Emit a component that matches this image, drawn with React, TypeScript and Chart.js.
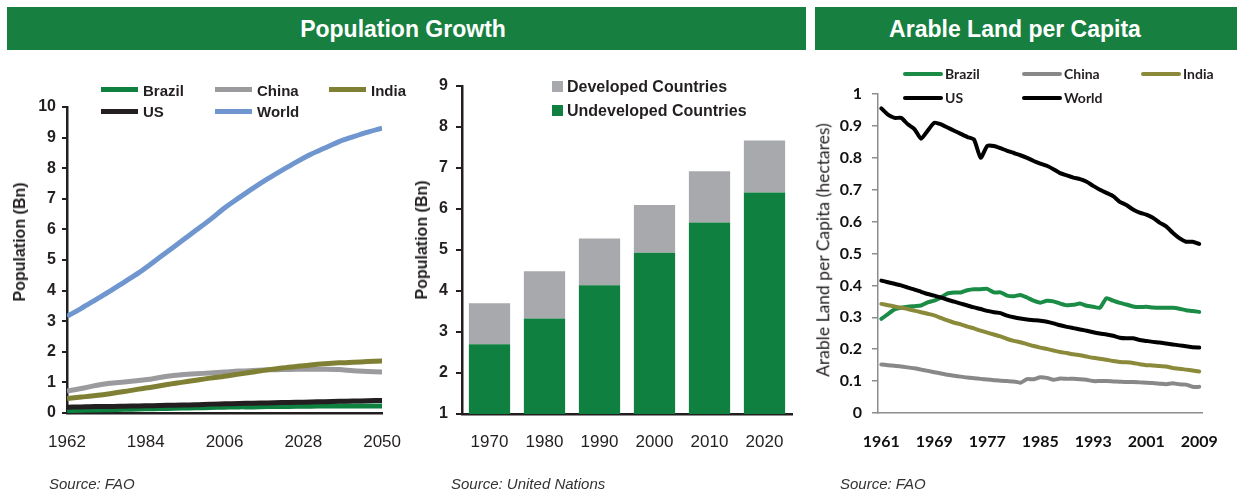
import React, { useEffect, useRef } from "react";
import { Chart, registerables } from "chart.js";
Chart.register(...registerables);

// ---------- Population Growth (line) ----------
const popYears = [1962, 1966, 1970, 1974, 1978, 1982, 1986, 1990, 1994, 1998, 2002, 2006, 2010, 2014, 2018, 2022, 2026, 2030, 2034, 2038, 2042, 2046, 2050];
const worldPop = [3.16, 3.42, 3.7, 3.98, 4.28, 4.58, 4.92, 5.27, 5.62, 5.97, 6.32, 6.7, 7.03, 7.35, 7.65, 7.93, 8.2, 8.45, 8.66, 8.87, 9.03, 9.18, 9.31];
const chinaPop = [0.72, 0.8, 0.9, 0.97, 1.01, 1.06, 1.12, 1.2, 1.25, 1.28, 1.31, 1.34, 1.37, 1.39, 1.41, 1.42, 1.43, 1.43, 1.43, 1.42, 1.38, 1.36, 1.34];
const indiaPop = [0.47, 0.52, 0.57, 0.63, 0.7, 0.78, 0.85, 0.93, 1.0, 1.07, 1.14, 1.2, 1.27, 1.34, 1.41, 1.47, 1.52, 1.57, 1.61, 1.64, 1.66, 1.68, 1.7];
const usPop = [0.19, 0.2, 0.21, 0.21, 0.22, 0.23, 0.24, 0.25, 0.26, 0.27, 0.29, 0.3, 0.31, 0.32, 0.33, 0.34, 0.35, 0.36, 0.37, 0.38, 0.39, 0.4, 0.41];
const brazilPop = [0.08, 0.09, 0.1, 0.11, 0.12, 0.13, 0.14, 0.15, 0.16, 0.17, 0.18, 0.19, 0.2, 0.2, 0.21, 0.21, 0.22, 0.22, 0.23, 0.23, 0.23, 0.23, 0.23];

// ---------- Population Growth (bars) ----------
const barYears = ["1970", "1980", "1990", "2000", "2010", "2020"];
const undevelopedPop = [2.7, 3.33, 4.14, 4.93, 5.67, 6.4];
const developedPop = [1.0, 1.15, 1.14, 1.17, 1.25, 1.27];

// ---------- Arable Land per Capita ----------
const landYears = ["1961", "1962", "1963", "1964", "1965", "1966", "1967", "1968", "1969", "1970", "1971", "1972", "1973", "1974", "1975", "1976", "1977", "1978", "1979", "1980", "1981", "1982", "1983", "1984", "1985", "1986", "1987", "1988", "1989", "1990", "1991", "1992", "1993", "1994", "1995", "1996", "1997", "1998", "1999", "2000", "2001", "2002", "2003", "2004", "2005", "2006", "2007", "2008", "2009"];
const landWorld = [0.955, 0.935, 0.925, 0.925, 0.905, 0.89, 0.86, 0.885, 0.91, 0.905, 0.895, 0.885, 0.875, 0.865, 0.857, 0.8, 0.837, 0.837, 0.83, 0.822, 0.815, 0.808, 0.8, 0.79, 0.782, 0.775, 0.764, 0.752, 0.745, 0.738, 0.733, 0.725, 0.712, 0.7, 0.69, 0.68, 0.662, 0.652, 0.638, 0.628, 0.622, 0.612, 0.597, 0.585, 0.565, 0.548, 0.537, 0.537, 0.53];
const landUS = [0.415, 0.41, 0.405, 0.4, 0.393, 0.387, 0.38, 0.373, 0.368, 0.362, 0.355, 0.349, 0.343, 0.337, 0.331, 0.326, 0.32, 0.316, 0.313, 0.305, 0.3, 0.296, 0.293, 0.291, 0.289, 0.286, 0.281, 0.275, 0.27, 0.266, 0.262, 0.258, 0.253, 0.249, 0.246, 0.242, 0.236, 0.234, 0.234, 0.229, 0.226, 0.223, 0.221, 0.218, 0.215, 0.212, 0.209, 0.206, 0.205];
const landBrazil = [0.295, 0.31, 0.325, 0.33, 0.333, 0.335, 0.337, 0.347, 0.352, 0.362, 0.375, 0.378, 0.378, 0.385, 0.388, 0.388, 0.389, 0.378, 0.378, 0.368, 0.366, 0.37, 0.362, 0.352, 0.346, 0.352, 0.35, 0.343, 0.338, 0.339, 0.343, 0.336, 0.333, 0.33, 0.36, 0.352, 0.345, 0.34, 0.334, 0.332, 0.333, 0.331, 0.33, 0.33, 0.33, 0.327, 0.322, 0.32, 0.317];
const landIndia = [0.342, 0.338, 0.334, 0.33, 0.326, 0.321, 0.316, 0.311, 0.306, 0.298, 0.29, 0.283, 0.278, 0.271, 0.265, 0.258, 0.252, 0.246, 0.24, 0.232, 0.226, 0.222, 0.216, 0.21, 0.205, 0.201, 0.196, 0.191, 0.188, 0.184, 0.181, 0.177, 0.173, 0.17, 0.167, 0.163, 0.16, 0.159, 0.157, 0.153, 0.15, 0.149, 0.147, 0.146, 0.141, 0.139, 0.136, 0.133, 0.13];
const landChina = [0.152, 0.15, 0.148, 0.146, 0.143, 0.14, 0.136, 0.132, 0.128, 0.124, 0.12, 0.117, 0.114, 0.111, 0.109, 0.107, 0.105, 0.103, 0.101, 0.1, 0.099, 0.095, 0.106, 0.106, 0.112, 0.11, 0.104, 0.108, 0.107, 0.107, 0.106, 0.104, 0.1, 0.1, 0.1, 0.099, 0.098, 0.097, 0.097, 0.096, 0.095, 0.094, 0.092, 0.09, 0.093, 0.09, 0.089, 0.082, 0.082];

const ARIAL = "'Liberation Sans', Arial, Helvetica, sans-serif";
const LATO = "Lato, 'Open Sans', sans-serif";
const INK = "#231f20";
const GREEN = "#108040";
const TITLE_GREEN = "#178040";

const C_WORLD = "#7096d0";
const C_CHINA = "#9b9b9e";
const C_INDIA = "#808035";
const C_US = "#231f20";
const C_BRAZIL = "#0e8040";

function useChart(build: () => any) {
  const ref = useRef<HTMLCanvasElement | null>(null);
  useEffect(() => {
    if (!ref.current) return;
    const chart = new Chart(ref.current, build());
    return () => chart.destroy();
  }, []);
  return ref;
}

function PopLineChart() {
  const ref = useChart(() => {
    const pts = (arr: number[]) => popYears.map((x, i) => ({ x, y: arr[i] }));
    const ds = (label: string, arr: number[], color: string) => ({
      label,
      data: pts(arr),
      borderColor: color,
      backgroundColor: color,
      borderWidth: 5,
      pointRadius: 0,
      tension: 0.3,
      fill: false,
    });
    return {
      type: "line",
      data: {
        datasets: [
          ds("World", worldPop, C_WORLD),
          ds("India", indiaPop, C_INDIA),
          ds("China", chinaPop, C_CHINA),
          ds("US", usPop, C_US),
          ds("Brazil", brazilPop, C_BRAZIL),
        ],
      },
      options: {
        responsive: false,
        animation: false,
        devicePixelRatio: 1,
        layout: { padding: { left: 0, top: 107, right: 17, bottom: 37 } },
        plugins: { legend: { display: false }, tooltip: { enabled: false } },
        scales: {
          x: {
            type: "linear",
            min: 1962,
            max: 2050,
            ticks: { stepSize: 22, callback: (v: any) => String(v), font: { family: ARIAL, size: 17 }, color: INK, padding: 19, maxRotation: 0 },
            grid: { display: false, drawTicks: false },
            border: { display: true, color: INK, width: 2.5 },
            afterFit: (s: any) => { s.height = 40; },
          },
          y: {
            min: 0,
            max: 10,
            ticks: { stepSize: 1, font: { family: ARIAL, size: 16, weight: "bold" }, color: INK, padding: 6 },
            grid: { display: true, drawOnChartArea: false, drawTicks: true, tickLength: 5, color: INK, lineWidth: 2 },
            border: { display: true, color: INK, width: 2.5 },
            afterFit: (s: any) => { s.width = 67; },
          },
        },
      },
    };
  });
  return <canvas ref={ref} width={420} height={490} style={{ position: "absolute", left: 0, top: 0 }} />;
}

function PopBarChart() {
  const ref = useChart(() => ({
    type: "bar",
    data: {
      labels: barYears,
      datasets: [
        { label: "Undeveloped Countries", data: undevelopedPop, backgroundColor: GREEN, stack: "s" },
        { label: "Developed Countries", data: developedPop, backgroundColor: "#a7a9ac", stack: "s" },
      ],
    },
    options: {
      responsive: false,
      animation: false,
      devicePixelRatio: 1,
      barPercentage: 0.75,
      categoryPercentage: 1,
      layout: { padding: { left: 0, top: 86, right: 18, bottom: 36 } },
      plugins: { legend: { display: false }, tooltip: { enabled: false } },
      scales: {
        x: {
          stacked: true,
          ticks: { font: { family: ARIAL, size: 17 }, color: INK, padding: 18, maxRotation: 0 },
          grid: { display: false, drawTicks: false },
          border: { display: true, color: INK, width: 2.5 },
          afterFit: (s: any) => { s.height = 40; },
        },
        y: {
          stacked: true,
          min: 1,
          max: 9,
          ticks: { stepSize: 1, font: { family: ARIAL, size: 16, weight: "bold" }, color: INK, padding: 8 },
          grid: { display: true, drawOnChartArea: false, drawTicks: true, tickLength: 6, color: INK, lineWidth: 2 },
          border: { display: true, color: INK, width: 2.5 },
          afterFit: (s: any) => { s.width = 42; },
        },
      },
    },
  }));
  return <canvas ref={ref} width={390} height={490} style={{ position: "absolute", left: 420, top: 0 }} />;
}

function LandChart() {
  const ref = useChart(() => {
    const ds = (label: string, arr: number[], color: string) => ({
      label,
      data: arr,
      borderColor: color,
      backgroundColor: color,
      borderWidth: 4,
      pointRadius: 0,
      tension: 0.2,
      borderCapStyle: "round",
      borderJoinStyle: "round",
      fill: false,
    });
    return {
      type: "line",
      data: {
        labels: landYears,
        datasets: [
          ds("World", landWorld, "#000000"),
          ds("US", landUS, "#000000"),
          ds("India", landIndia, "#8a8a3a"),
          ds("China", landChina, "#888888"),
          ds("Brazil", landBrazil, "#1a8c45"),
        ],
      },
      options: {
        responsive: false,
        animation: false,
        devicePixelRatio: 1,
        layout: { padding: { left: 0, top: 94, right: 21, bottom: 37 } },
        plugins: { legend: { display: false }, tooltip: { enabled: false } },
        scales: {
          x: {
            offset: true,
            ticks: {
              autoSkip: false,
              maxRotation: 0,
              callback: (_v: any, i: number) => (i % 8 === 0 ? landYears[i] : ""),
              font: { family: LATO, size: 16, weight: "bold" },
              color: "#111",
              padding: 19,
            },
            grid: { display: false, drawTicks: false },
            border: { display: true, color: "#8c8c8c", width: 1.5 },
            afterFit: (s: any) => { s.height = 40; },
          },
          y: {
            min: 0,
            max: 1,
            ticks: {
              stepSize: 0.1,
              callback: (v: any) => String(Math.round(Number(v) * 10) / 10),
              font: { family: LATO, size: 16, weight: "bold" },
              color: "#111",
              padding: 10,
            },
            grid: { display: true, drawOnChartArea: false, drawTicks: true, tickLength: 6, color: "#8c8c8c", lineWidth: 1.5 },
            border: { display: true, color: "#8c8c8c", width: 1.5 },
            afterFit: (s: any) => { s.width = 68; },
          },
        },
      },
    };
  });
  return <canvas ref={ref} width={427} height={490} style={{ position: "absolute", left: 810, top: 0 }} />;
}

const abs = (s: React.CSSProperties): React.CSSProperties => ({ position: "absolute", ...s });

function TitleBar({ left, width, text, cx }: { left: number; width: number; text: string; cx: number }) {
  return (
    <div style={abs({ left, top: 7, width, height: 43, background: TITLE_GREEN })}>
      <div
        style={abs({
          left: cx - left,
          top: 21.5,
          transform: "translate(-50%, -50%)",
          whiteSpace: "nowrap",
          color: "#fff",
          fontFamily: ARIAL,
          fontWeight: "bold",
          fontSize: 23,
        })}
      >
        {text}
      </div>
    </div>
  );
}

function LineKey({ x, y, color, label, w, h, gap, font, size, round }: any) {
  return (
    <>
      <div style={abs({ left: x, top: y - h / 2, width: w, height: h, background: color, borderRadius: round ? h / 2 : 0 })} />
      <div
        style={abs({
          left: x + w + gap,
          top: y,
          transform: "translateY(-50%)",
          whiteSpace: "nowrap",
          fontFamily: font,
          fontWeight: "bold",
          fontSize: size,
          color: INK,
          lineHeight: 1,
        })}
      >
        {label}
      </div>
    </>
  );
}

function VTitle({ cx, cy, text, font, size, weight }: any) {
  return (
    <div
      style={abs({
        left: cx,
        top: cy,
        transform: "translate(-50%, -50%) rotate(-90deg)",
        whiteSpace: "nowrap",
        fontFamily: font,
        fontSize: size,
        fontWeight: weight,
        color: INK,
        lineHeight: 1,
      })}
    >
      {text}
    </div>
  );
}

function Source({ x, text }: { x: number; text: string }) {
  return (
    <div
      style={abs({
        left: x,
        top: 482.5,
        transform: "translateY(-50%)",
        whiteSpace: "nowrap",
        fontFamily: ARIAL,
        fontStyle: "italic",
        fontSize: 15,
        color: "#333",
        lineHeight: 1,
      })}
    >
      {text}
    </div>
  );
}

export default function App() {
  return (
    <div style={abs({ left: 0, top: 0, width: 1237, height: 490, background: "#fff", overflow: "hidden" })}>
      <TitleBar left={7} width={799} text="Population Growth" cx={403} />
      <TitleBar left={815} width={430} text="Arable Land per Capita" cx={1015} />

      <PopLineChart />
      <PopBarChart />
      <LandChart />

      {/* chart 1 legend */}
      <LineKey x={101} y={89.5} color={C_BRAZIL} label="Brazil" w={37} h={5} gap={5} font={ARIAL} size={15} />
      <LineKey x={215} y={89.5} color={C_CHINA} label="China" w={37} h={5} gap={5} font={ARIAL} size={15} />
      <LineKey x={329} y={89.5} color={C_INDIA} label="India" w={37} h={5} gap={5} font={ARIAL} size={15} />
      <LineKey x={101} y={111} color={C_US} label="US" w={37} h={5} gap={5} font={ARIAL} size={15} />
      <LineKey x={215} y={111} color={C_WORLD} label="World" w={37} h={5} gap={5} font={ARIAL} size={15} />

      {/* chart 2 legend */}
      <LineKey x={552} y={86.5} color="#a7a9ac" label="Developed Countries" w={11} h={11} gap={4} font={ARIAL} size={16} />
      <LineKey x={552} y={110.5} color={GREEN} label="Undeveloped Countries" w={11} h={11} gap={4} font={ARIAL} size={16} />

      {/* chart 3 legend */}
      <LineKey x={903} y={74} color="#1a8c45" label="Brazil" w={40} h={4} gap={2} font={LATO} size={14} round />
      <LineKey x={1022} y={74} color="#888888" label="China" w={40} h={4} gap={2} font={LATO} size={14} round />
      <LineKey x={1141} y={74} color="#8a8a3a" label="India" w={40} h={4} gap={2} font={LATO} size={14} round />
      <LineKey x={903} y={98} color="#000" label="US" w={40} h={4} gap={2} font={LATO} size={14} round />
      <LineKey x={1022} y={98} color="#000" label="World" w={40} h={4} gap={2} font={LATO} size={14} round />

      <VTitle cx={20} cy={242} text="Population (Bn)" font={ARIAL} size={16} weight="bold" />
      <VTitle cx={421.5} cy={240} text="Population (Bn)" font={ARIAL} size={16} weight="bold" />
      <VTitle cx={822.5} cy={250} text="Arable Land per Capita (hectares)" font={LATO} size={17.5} weight="normal" />

      <Source x={49} text="Source: FAO" />
      <Source x={451} text="Source: United Nations" />
      <Source x={840} text="Source: FAO" />
    </div>
  );
}
